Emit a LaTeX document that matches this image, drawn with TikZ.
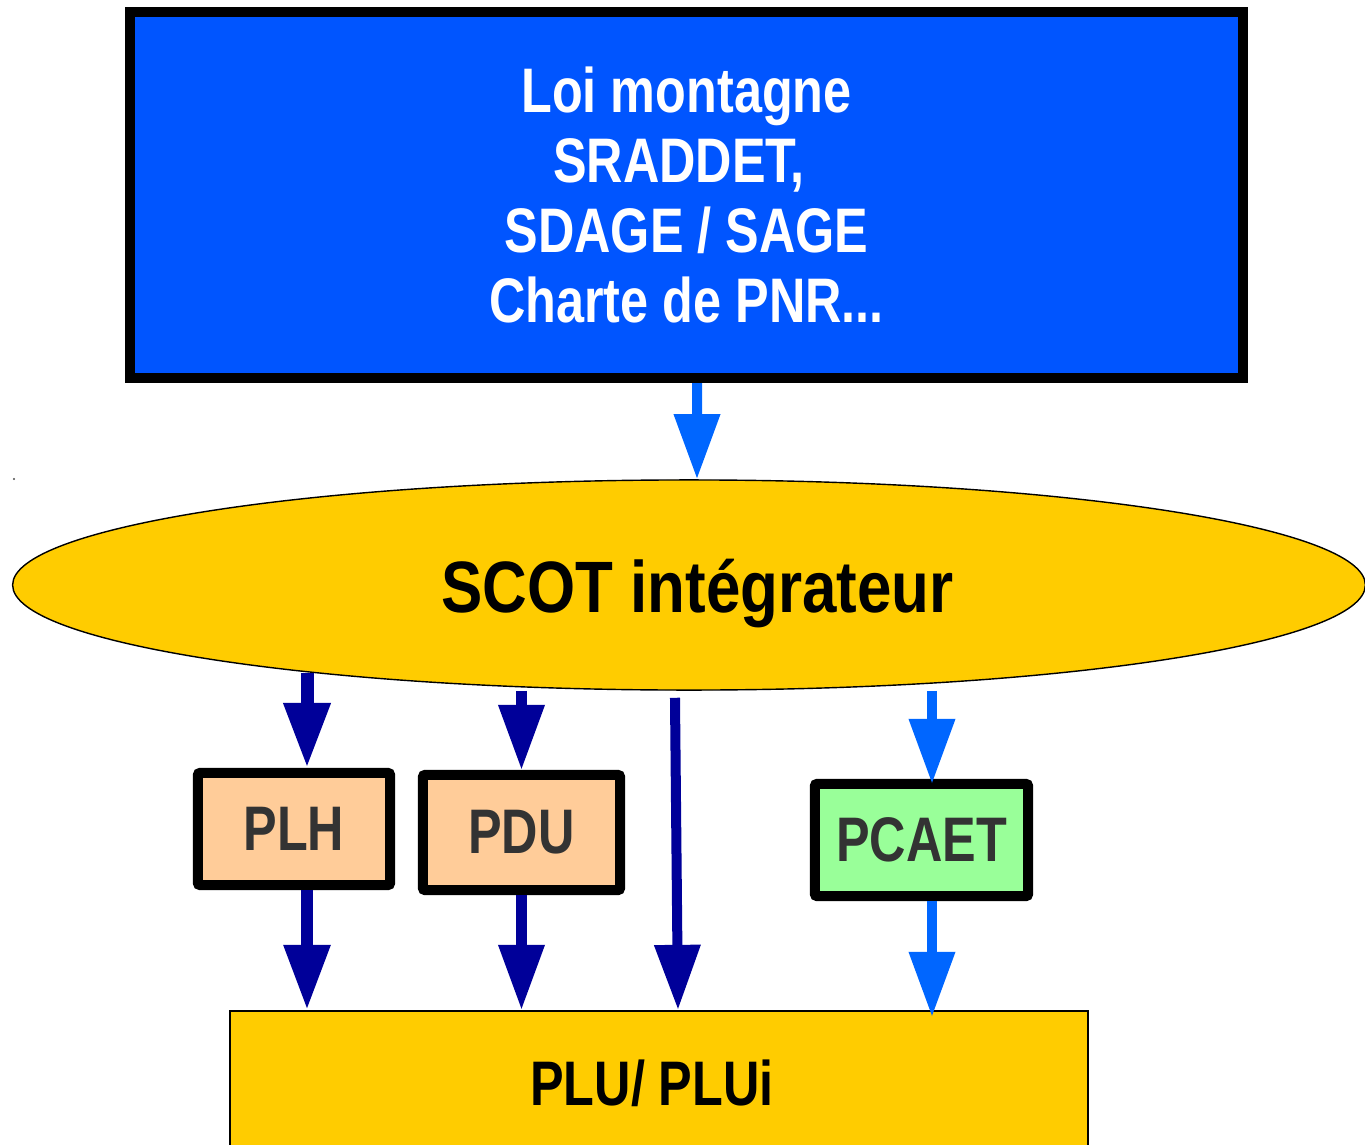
\documentclass[tikz,border=0pt]{standalone}
\usepackage{fontspec}
\setmainfont{Liberation Sans}
\newfontfamily\narrowsans[FakeStretch=0.8]{Liberation Sans}
\newfontfamily\scotsans[FakeStretch=0.85]{Liberation Sans}
\usetikzlibrary{arrows.meta,shapes.geometric,calc}
\definecolor{topblue}{HTML}{0055FF}
\definecolor{lblue}{HTML}{0066FF}
\definecolor{dblue}{HTML}{000099}
\definecolor{scotyellow}{HTML}{FFCC00}
\definecolor{peach}{HTML}{FFCC99}
\definecolor{lgreen}{HTML}{99FF99}
\definecolor{boxtext}{HTML}{333333}
\tikzset{
  thickbox/.style={draw=black, line width=0.1cm, rounded corners=0.02cm, inner sep=0pt,
    text=boxtext, font=\narrowsans\bfseries\fontsize{17.9pt}{19.9pt}\selectfont},
  darr/.style={draw=dblue, line width=0.11cm, -{Triangle[width=0.44cm,length=0.65cm]}},
  larr/.style={draw=lblue, line width=0.1cm, -{Triangle[width=0.44cm,length=0.65cm]}},
}
\begin{document}
\begin{tikzpicture}[x=0.01cm,y=-0.01cm]
\useasboundingbox (0,0) rectangle (1365,1145);
\clip (0,0) rectangle (1365,1145);

% top box
\node[draw=black, line width=0.1cm, fill=topblue, inner sep=0pt,
      minimum width=11.13cm, minimum height=3.66cm, align=center, text=white,
      font=\narrowsans\bfseries\fontsize{17.9pt}{19.9pt}\selectfont]
  (top) at (686.5,195) {Loi montagne\\\mbox{SRADDET,\kern0.15cm}\\SDAGE / SAGE\\Charte de PNR...};

% ellipse
\node[ellipse, draw=black, line width=0.4pt, fill=scotyellow, inner sep=0pt,
      minimum width=13.52cm, minimum height=2.10cm, text height=0.54cm, text depth=0cm,
      font=\scotsans\bfseries\fontsize{20.7pt}{24pt}\selectfont]
  (scot) at (689,585) {\hspace*{0.17cm}SCOT intégrateur};

% small boxes
\node[thickbox, fill=peach, minimum width=1.92cm, minimum height=1.12cm] (plh) at (294,829) {PLH};
\node[thickbox, fill=peach, minimum width=1.97cm, minimum height=1.15cm] (pdu) at (521.5,832.5) {PDU};
\node[thickbox, fill=lgreen, minimum width=2.13cm, minimum height=1.12cm] (pcaet) at (921.5,840) {PCAET};

% bottom box
\node[draw=black, line width=0.6pt, fill=scotyellow, inner sep=0pt,
      minimum width=8.58cm, minimum height=1.45cm,
      font=\narrowsans\bfseries\fontsize{17.9pt}{19.9pt}\selectfont]
  (plu) at (659,1083.5) {\hspace*{-0.14cm}PLU/ PLUi};

% stray dot
\fill[black!70] (14,479) circle (0.012cm);

% arrows
\draw[larr] ([xshift=0.105cm]top.south) -- ([xshift=0.08cm]scot.north);

\path ([xshift=0.13cm]plh.north) coordinate (plhin);
\path (plhin |- scot.south) ++(0,-18) coordinate (plhtop);
\draw[darr, line width=0.13cm] (plhtop) -- (plhin);
\path ([xshift=0.13cm]plh.south) coordinate (plhout);
\draw[darr, line width=0.12cm] (plhout) -- (plhout |- plu.north);

\draw[darr, line width=0.1cm] (pdu.north |- scot.south) -- (pdu.north);
\draw[darr, line width=0.1cm] (pdu.south) -- (pdu.south |- plu.north);

\draw[darr, line width=0.1cm] ([xshift=-0.14cm,yshift=-0.07cm]scot.south) -- ([xshift=0.19cm]plu.north);

\path ([xshift=0.105cm]pcaet.north) coordinate (pcin);
\draw[larr, shorten >=-0.05cm] (pcin |- scot.south) -- (pcin);
\path ([xshift=0.105cm]pcaet.south) coordinate (pcout);
\draw[larr, shorten >=-0.07cm] (pcout) -- (pcout |- plu.north);
\end{tikzpicture}
\end{document}
